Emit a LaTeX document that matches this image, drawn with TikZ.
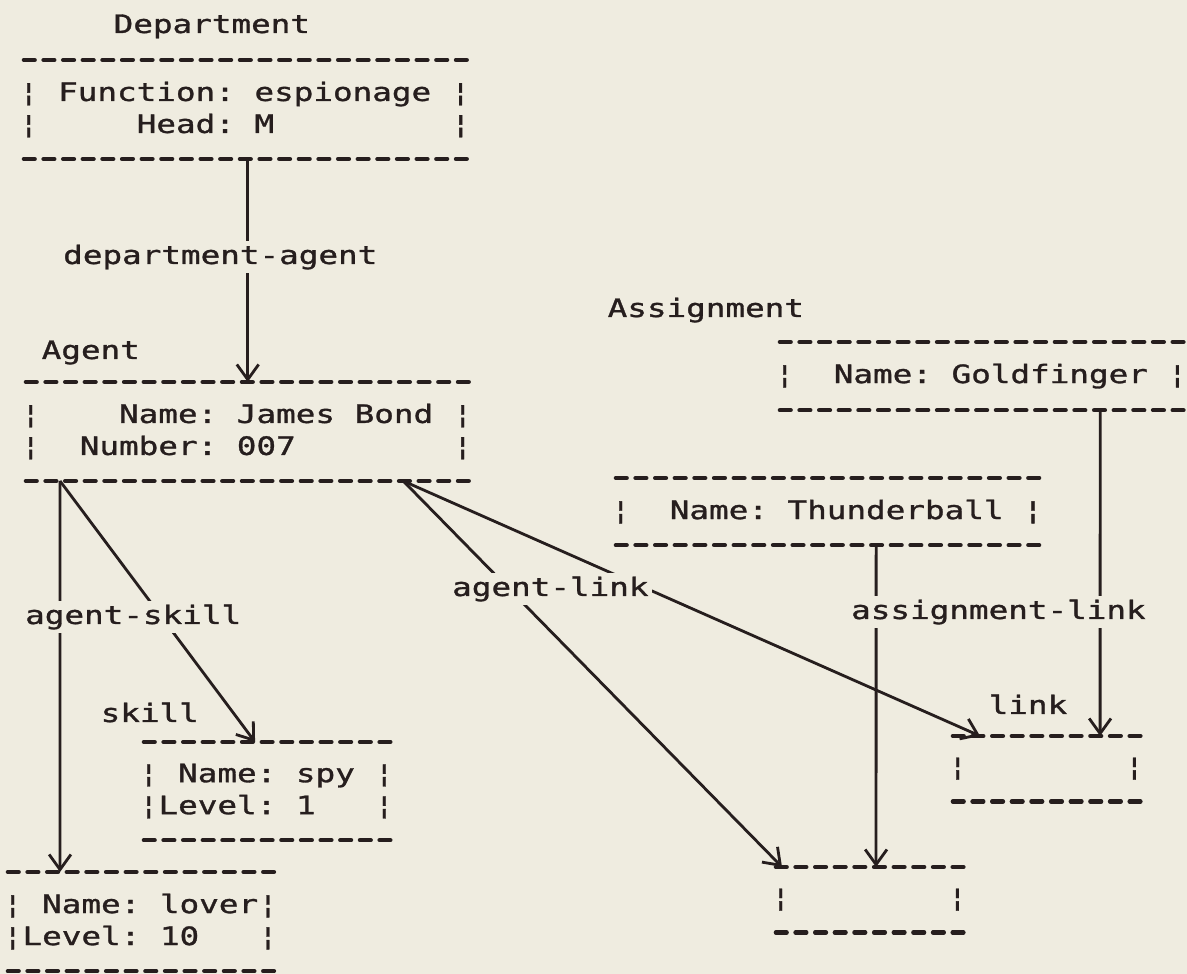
\documentclass[tikz,border=0pt]{standalone}
\usepackage{fontspec}
\usepackage{tikz}
\usetikzlibrary{arrows.meta}
\newfontfamily\plotfont[FakeStretch=1.288,FakeBold=1.2]{DejaVu Sans Mono}
\newcommand\plotsize{\plotfont\fontsize{7.2pt}{9.1pt}\selectfont
  \spaceskip=5.585pt\relax\xspaceskip=5.585pt\relax}
\definecolor{paper}{RGB}{239,236,224}
\definecolor{ink}{RGB}{38,30,30}

\begin{document}
\begin{tikzpicture}
[x=0.01cm, y=-0.01cm,
plotted/.style={font=\plotsize, text=ink},
record/.style={plotted, anchor=north west, align=left, inner xsep=0pt, inner ysep=0.21cm},
title/.style={plotted, anchor=base west, inner sep=0pt},
role/.style={plotted, anchor=base west, fill=paper, inner sep=1pt},
ruling/.style={ink, line width=1.2pt, line cap=round, dash pattern=on 3.1pt off 2.485pt},
assoc/.style={ink, line width=0.8pt, -{Straight Barb[length=4.3pt,width=6.2pt]}}]
\fill[paper] (0,0) rectangle (1187,974);
\useasboundingbox (0,0) rectangle (1187,974);
% records
\node[record] (dept) at (18.2,60) {¦\ Function:\ espionage\ ¦\\¦\ \ \ \ \ Head:\ M\ \ \ \ \ \ \ \ \ ¦};
\node[record] (agent) at (20.2,382) {¦\ \ \ \ Name:\ James\ Bond\ ¦\\¦\ \ Number:\ 007\ \ \ \ \ \ \ \ ¦};
\node[record] (gold) at (774.2,342) {¦\ \ Name:\ Goldfinger\ ¦};
\node[record] (thunder) at (610.2,478) {¦\ \ Name:\ Thunderball\ ¦};
\node[record] (skill) at (138.2,742) {¦\ Name:\ spy\ ¦\\¦Level:\ 1\ \ \ ¦};
\node[record] (lover) at (2.2,872) {¦\ Name:\ lover¦\\¦Level:\ 10\ \ \ ¦};
\node[record] (linkR) at (947.2,736) {¦\ \ \ \ \ \ \ \ ¦};
\node[record] (linkB) at (770.2,867) {¦\ \ \ \ \ \ \ \ ¦};
\draw[ruling] ([xshift=1.6pt]dept.north west) -- ([xshift=-1.1pt]dept.north east);
\draw[ruling] ([xshift=1.6pt]dept.south west) -- ([xshift=-1.1pt]dept.south east);
\draw[ruling] ([xshift=1.6pt]agent.north west) -- ([xshift=-1.1pt]agent.north east);
\draw[ruling] ([xshift=1.6pt]agent.south west) -- ([xshift=-1.1pt]agent.south east);
\draw[ruling] ([xshift=1.6pt]gold.north west) -- ([xshift=-1.1pt]gold.north east);
\draw[ruling] ([xshift=1.6pt]gold.south west) -- ([xshift=-1.1pt]gold.south east);
\draw[ruling] ([xshift=1.6pt]thunder.north west) -- ([xshift=-1.1pt]thunder.north east);
\draw[ruling] ([xshift=1.6pt]thunder.south west) -- ([xshift=-1.1pt]thunder.south east);
\draw[ruling] ([xshift=1.6pt]skill.north west) -- ([xshift=-1.1pt]skill.north east);
\draw[ruling] ([xshift=1.6pt]skill.south west) -- ([xshift=-1.1pt]skill.south east);
\draw[ruling] ([xshift=1.6pt]lover.north west) -- ([xshift=-1.1pt]lover.north east);
\draw[ruling] ([xshift=1.6pt]lover.south west) -- ([xshift=-1.1pt]lover.south east);
\draw[ruling] ([xshift=1.6pt]linkR.north west) -- ([xshift=-1.1pt]linkR.north east);
\draw[ruling] ([xshift=1.6pt]linkR.south west) -- ([xshift=-1.1pt]linkR.south east);
\draw[ruling] ([xshift=1.6pt]linkB.north west) -- ([xshift=-1.1pt]linkB.north east);
\draw[ruling] ([xshift=1.6pt]linkB.south west) -- ([xshift=-1.1pt]linkB.south east);
% record names
\node[title] (depttitle) at (113,33) {Department};
\node[title] (agenttitle) at (41,359) {Agent};
\node[title] (assigntitle) at (607,317) {Assignment};
\node[title] (skilltitle) at (100,722) {skill};
\node[title] (linktitle) at (988,714) {link};
% connectors
\draw[assoc] ([xshift=0.03cm]dept.south) -- ([xshift=0.03cm]dept.south |- agent.north);
\draw[assoc] ([xshift=0.398cm]agent.south west) -- ([xshift=0.578cm]lover.north west);
\draw[assoc] ([xshift=0.398cm]agent.south west) -- ([xshift=1.168cm]skill.north west);
\draw[assoc] ([xshift=3.828cm]agent.south west) -- ([xshift=0.118cm]linkB.north west);
\draw[assoc] ([xshift=3.828cm]agent.south west) -- ([xshift=0.328cm]linkR.north west);
\draw[assoc] ([xshift=2.658cm]thunder.south west) -- ([xshift=1.058cm]linkB.north west);
\draw[assoc] ([xshift=3.258cm]gold.south west) -- ([xshift=1.528cm]linkR.north west);
\node[role] (deptagent) at (59,264) {department-agent};
\node[role] (agentskill) at (21,624) {agent-skill};
\node[role] (agentlink) at (448,596) {agent-link};
\node[role] (assignlink) at (847,619) {assignment-link};
\end{tikzpicture}
\end{document}
